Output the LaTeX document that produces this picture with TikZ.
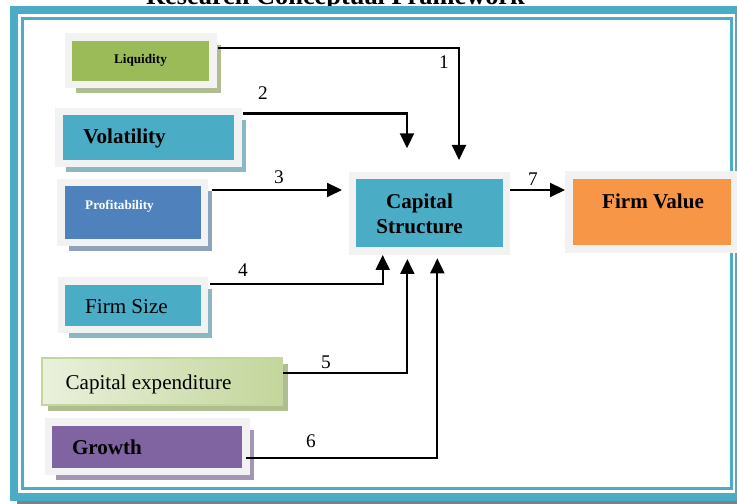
\documentclass[tikz,border=0pt]{standalone}
\usepackage{fontspec}
\setmainfont{Liberation Serif}
\usetikzlibrary{shapes,arrows,positioning,calc,shadows,arrows.meta}
\definecolor{framegray}{RGB}{242,242,242}
\definecolor{bandteal}{HTML}{4BACC6}
\definecolor{liqgreen}{HTML}{9BBB59}
\definecolor{profblue}{HTML}{4F81BD}
\definecolor{growpurple}{HTML}{8064A2}
\definecolor{valueorange}{HTML}{F79646}
\definecolor{capexgreen}{HTML}{C3D69B}

\begin{document}
\begin{tikzpicture}[
    framebox/.style={rectangle, fill=#1, draw=framegray, line width=0.15cm, outer sep=0pt},
    factor/.style={framebox=#1, drop shadow={shadow xshift=0.15cm, shadow yshift=-0.17cm, fill=#1!45!lightgray, opacity=1}},
    flow/.style={-{Triangle[length=0.3cm, width=0.28cm]}, line width=1.2pt},
    num/.style={font=\fontsize{11}{13}\selectfont},
    plaintext/.style={font=\fontsize{12}{14.4}\selectfont},
    boldtext/.style={font=\fontsize{12}{14.4}\selectfont\bfseries},
    smalltext/.style={font=\fontsize{7.5}{9}\selectfont\bfseries}
]

% Canvas
\useasboundingbox (0,0) rectangle (14.74,10.08);
\clip (0,0) rectangle (14.74,10.08);

% Title (runs off the top edge)
\node[font=\fontsize{15}{18}\selectfont\bfseries, anchor=base] (title) at (6.71, 9.98) {Research Conceptual Framework};

% Page border
\fill[gray] (0.34,-0.2) rectangle (15,0.06);
\draw[bandteal, line width=0.16cm] (0.28,0.14) rectangle (14.78,9.88);
\draw[bandteal, line width=0.06cm] (0.45,0.3) rectangle (14.63,9.71);

% Determinants
\node[factor=liqgreen, minimum width=2.89cm, minimum height=0.95cm] (liq) at (2.815, 8.865) {};
\node[factor=bandteal, minimum width=3.58cm, minimum height=1.04cm] (vol) at (2.97, 7.33) {};
\node[factor=profblue, minimum width=2.87cm, minimum height=1.2cm] (prof) at (2.655, 5.83) {};
\node[factor=bandteal, minimum width=2.86cm, minimum height=0.97cm] (size) at (2.66, 3.975) {};
\node[rectangle, left color=capexgreen!35!white, right color=capexgreen, draw=capexgreen, line width=0.04cm, outer sep=0pt,
      minimum width=4.8cm, minimum height=0.94cm,
      drop shadow={shadow xshift=0.12cm, shadow yshift=-0.12cm, fill=liqgreen!45!lightgray, opacity=1}] (capex) at (3.24, 2.45) {};
\node[factor=growpurple, minimum width=3.95cm, minimum height=0.99cm] (growth) at (2.945, 1.145) {};

% Capital structure and firm value
\node[framebox=bandteal, minimum width=3.08cm, minimum height=1.51cm] (cap) at (8.59, 5.815) {};
\node[framebox=valueorange, minimum width=3.32cm, minimum height=1.48cm] (firm) at (13.04, 5.84) {};

% Box texts
\node[smalltext, anchor=base] (liqtext) at (2.81, 8.813) {Liquidity};
\node[boldtext, anchor=base] (voltext) at (2.49, 7.2) {Volatility};
\node[smalltext, white, anchor=base] (proftext) at (2.39, 5.893) {Profitability};
\node[plaintext, anchor=base] (sizetext) at (2.53, 3.813) {Firm Size};
\node[plaintext, anchor=base] (capextext) at (2.97, 2.28) {Capital expenditure};
\node[boldtext, anchor=base] (growthtext) at (2.14, 0.98) {Growth};
\node[boldtext, align=center] (captext) at (8.39, 5.8) {Capital\\Structure};
\node[boldtext, anchor=base] (firmtext) at (13.06, 5.913) {Firm Value};

% Paths into capital structure
\draw[flow] ([xshift=0.1cm, yshift=0.26cm]liq.east) -| ([xshift=0.59cm, yshift=0.31cm]cap.north);
\draw[flow] ([xshift=0.1cm, yshift=0.48cm]vol.east) -| ([xshift=-0.45cm, yshift=0.544cm]cap.north);
\draw[flow] ([xshift=0.15cm, yshift=0.45cm]prof.east) -- ([xshift=-0.21cm, yshift=0.465cm]cap.west);
\draw[flow] ([xshift=0.11cm, yshift=0.42cm]size.east) -| ([xshift=-0.936cm, yshift=-0.08cm]cap.south);
\draw[flow] ([xshift=0.02cm, yshift=0.177cm]capex.east) -| ([xshift=-0.443cm, yshift=-0.16cm]cap.south);
\draw[flow] ([yshift=-0.22cm]growth.east) -| ([xshift=0.157cm, yshift=-0.147cm]cap.south);
\draw[flow] ([xshift=0.07cm, yshift=0.465cm]cap.east) -- ([xshift=-0.08cm, yshift=0.44cm]firm.west);

% Path numbers
\node[num] (n1) at (8.88, 8.84) {1};
\node[num] (n2) at (5.26, 8.22) {2};
\node[num] (n3) at (5.58, 6.54) {3};
\node[num] (n4) at (4.86, 4.68) {4};
\node[num] (n5) at (6.52, 2.826) {5};
\node[num] (n6) at (6.22, 1.26) {6};
\node[num] (n7) at (10.66, 6.5) {7};

\end{tikzpicture}
\end{document}
